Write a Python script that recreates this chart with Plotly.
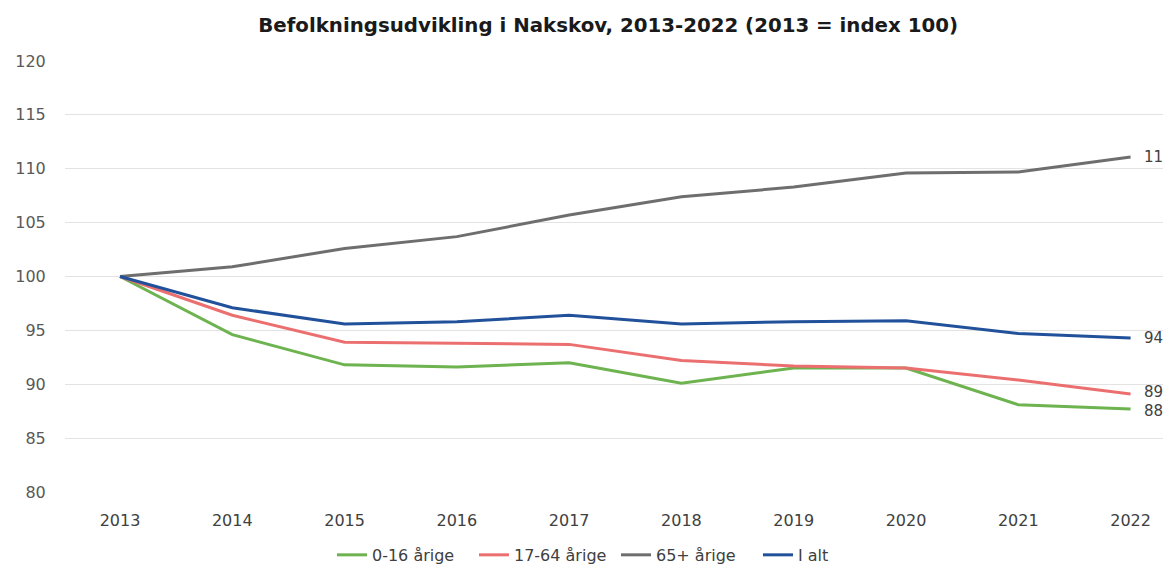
import plotly.graph_objects as go

years = [2013, 2014, 2015, 2016, 2017, 2018, 2019, 2020, 2021, 2022]
series_names = ["0-16 årige", "17-64 årige", "65+ årige", "I alt"]
age_0_16 = [100, 94.6, 91.8, 91.6, 92.0, 90.1, 91.5, 91.5, 88.1, 87.7]
age_17_64 = [100, 96.4, 93.9, 93.8, 93.7, 92.2, 91.7, 91.5, 90.4, 89.1]
age_65 = [100, 100.9, 102.6, 103.7, 105.7, 107.4, 108.3, 109.6, 109.7, 111.1]
total = [100, 97.1, 95.6, 95.8, 96.4, 95.6, 95.8, 95.9, 94.7, 94.3]
end_labels = ["88", "89", "111", "94"]
colors = ["#6DB34F", "#EC6F70", "#6E6E6E", "#22519B"]

FONT = "DejaVu Sans"
fig = go.Figure()
for name, vals, col in zip(series_names, [age_0_16, age_17_64, age_65, total], colors):
    fig.add_trace(go.Scatter(
        x=years, y=vals, name=name, mode="lines",
        line=dict(color=col, width=3),
    ))

yshifts = [-2, 2, 0, 0]
for vals, lab, ys in zip([age_0_16, age_17_64, age_65, total], end_labels, yshifts):
    fig.add_annotation(x=years[-1], y=vals[-1], text=lab, showarrow=False,
                       xanchor="left", yanchor="middle", xshift=11, yshift=ys,
                       font=dict(family=FONT, size=15, color="#404040"))

fig.update_layout(
    width=1163, height=557,
    paper_bgcolor="white", plot_bgcolor="white",
    margin=dict(l=57, r=0, t=53, b=73, autoexpand=False),
    title=dict(text="<b>Befolkningsudvikling i Nakskov, 2013-2022 (2013 = index 100)</b>",
               x=0.516, xanchor="center", y=1 - 17 / 557, yanchor="middle",
               font=dict(family=FONT, size=19.8, color="#1a1a1a"), automargin=False),
    font=dict(family=FONT, size=16, color="#595959"),
    xaxis=dict(range=[2012.51, 2022.36], tickmode="array", tickvals=years,
               showgrid=False, zeroline=False, showline=False, ticks="outside",
               ticklen=14, tickcolor="rgba(0,0,0,0)", automargin=False,
               tickfont=dict(size=16, color="#404040")),
    yaxis=dict(range=[80, 120], dtick=5, showgrid=True, gridcolor="#E3E3E3",
               gridwidth=1, zeroline=False, showline=False, ticks="outside",
               ticklen=15, tickcolor="rgba(0,0,0,0)", automargin=False,
               tickfont=dict(size=16, color="#595959")),
    legend=dict(orientation="h", x=0.2414, xanchor="left", y=-0.146, yanchor="middle",
                font=dict(family=FONT, size=16, color="#404040"),
                itemwidth=30, tracegroupgap=0, entrywidth=97, entrywidthmode="pixels"),
    showlegend=True,
)

fig.write_html("out.html")
